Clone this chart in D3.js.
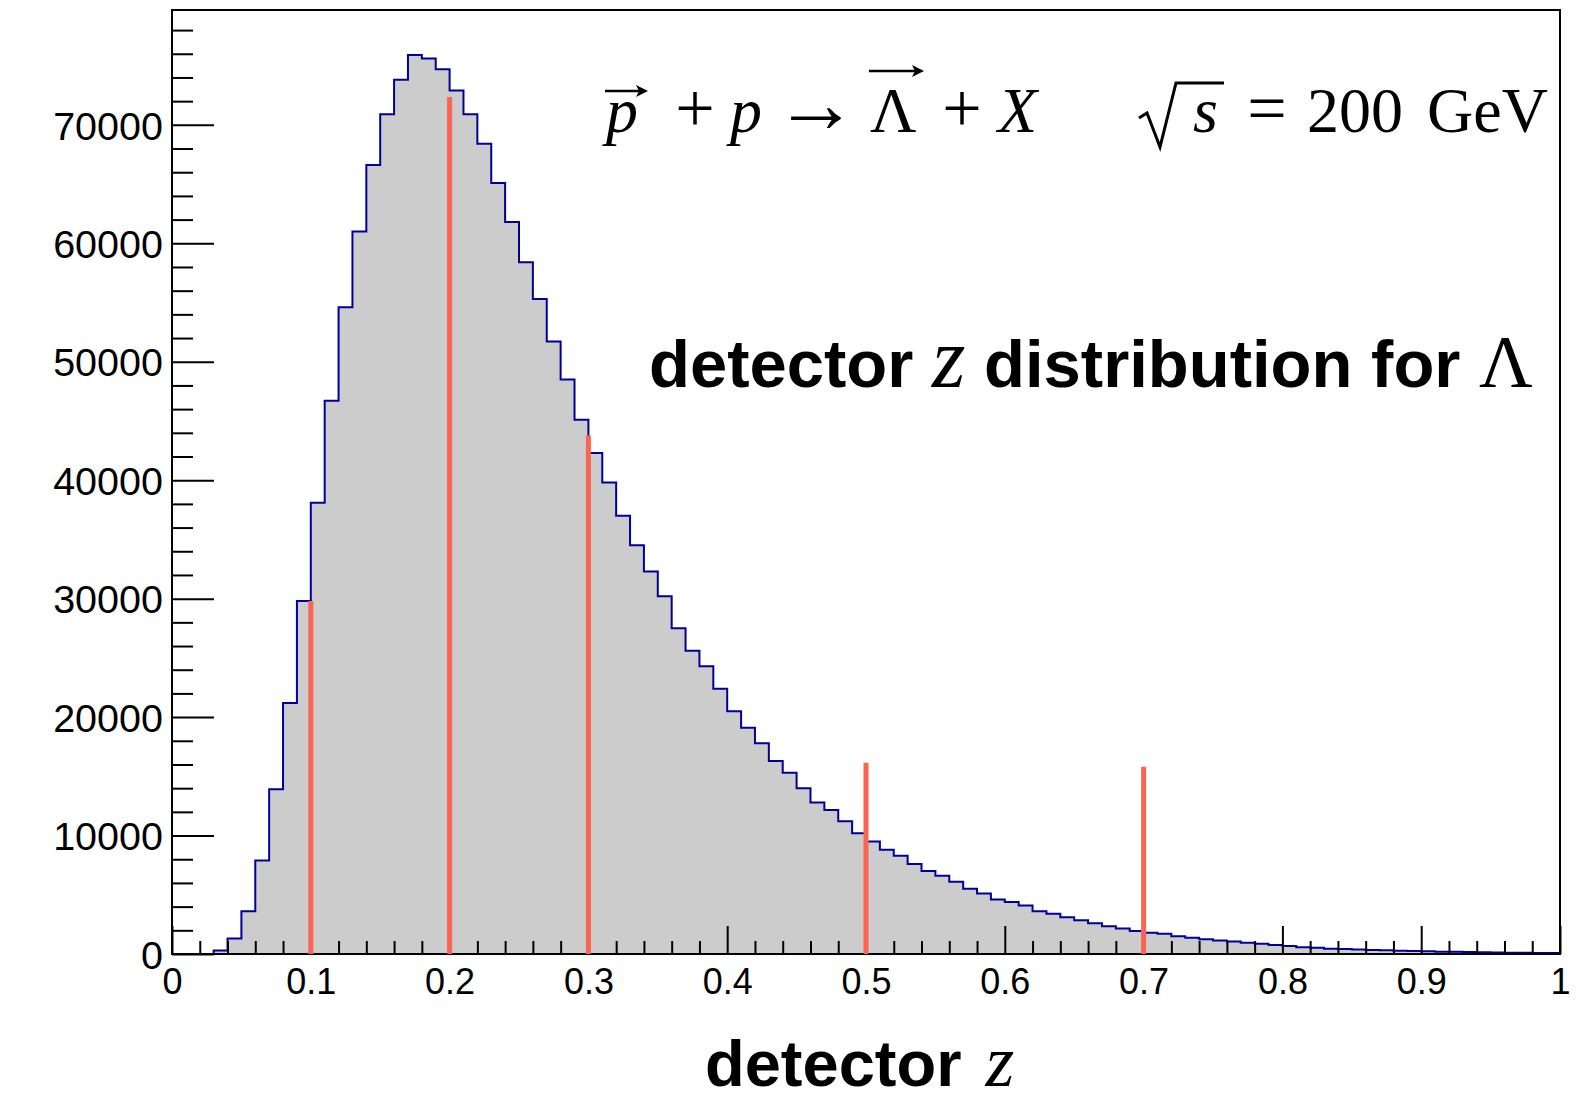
<!DOCTYPE html>
<html>
<head>
<meta charset="utf-8">
<script src="https://cdn.jsdelivr.net/npm/d3@7"></script>
<style>
  html, body { margin: 0; padding: 0; background: #ffffff; }
  svg { display: block; }
</style>
</head>
<body>
<svg id="chart" width="1588" height="1104"></svg>
<script>
// Detector-level z distribution of Lambda hyperons, 100 equal bins on [0, 1]
const binRange = [0, 1];
const binCounts = [
      0,     0,     0,   300,  1300,  3600,  7900, 13900, 21200, 29800,
  38100, 46700, 54600, 61000, 66600, 70900, 73800, 75900, 75600, 74700,
  72900, 70900, 68400, 65100, 61800, 58400, 55300, 51700, 48500, 45100,
  42300, 39800, 37000, 34500, 32300, 30200, 27500, 25600, 24300, 22400,
  20500, 19100, 17800, 16300, 15300, 14000, 12800, 12150, 11200, 10200,
   9500,  8800,  8300,  7600,  7000,  6600,  6100,  5500,  5100,  4600,
   4400,  4100,  3600,  3400,  3100,  2850,  2600,  2350,  2150,  1950,
   1800,  1700,  1500,  1380,  1250,  1150,  1060,   960,   870,   760,
    680,   570,   520,   450,   420,   370,   340,   310,   280,   260,
    240,   200,   190,   170,   140,   130,   110,   100,    90,    80
];

// Vertical markers at selected z values
const markerZ      = [0.1, 0.2, 0.3, 0.5, 0.7];
const markerHeight = [29800, 72350, 43800, 16150, 15800];

// Axis ticks
const xTickValues = [0, 0.1, 0.2, 0.3, 0.4, 0.5, 0.6, 0.7, 0.8, 0.9, 1];
const xTickLabels = ["0", "0.1", "0.2", "0.3", "0.4", "0.5", "0.6", "0.7", "0.8", "0.9", "1"];
const yTickValues = [0, 10000, 20000, 30000, 40000, 50000, 60000, 70000];
const yTickLabels = ["0", "10000", "20000", "30000", "40000", "50000", "60000", "70000"];
const xMinorStep = 0.02;
const yMinorStep = 2000;

const SANS = "'Liberation Sans', Arial, Helvetica, sans-serif";
const SERIF = "'Liberation Serif', 'Times New Roman', Times, serif";

const svg = d3.select("#chart");
const frame = { left: 172, right: 1560, top: 10, bottom: 954 };

const x = d3.scaleLinear().domain(binRange).range([frame.left, frame.right]);
const yMax = d3.max(binCounts) * 1.05;
const y = d3.scaleLinear().domain([0, yMax]).range([frame.bottom, frame.top]);

// ---- histogram (filled steps) ----
const nBins = binCounts.length;
const binWidth = (binRange[1] - binRange[0]) / nBins;
const stepPoints = [];
binCounts.forEach((c, i) => {
  const x0 = binRange[0] + i * binWidth;
  stepPoints.push([x0, c], [x0 + binWidth, c]);
});

svg.append("path")
  .datum(stepPoints)
  .attr("fill", "#cccccc")
  .attr("stroke", "none")
  .attr("d", d3.area().x(d => x(d[0])).y0(y(0)).y1(d => y(d[1])));

svg.append("path")
  .datum(stepPoints)
  .attr("fill", "none")
  .attr("stroke", "#000099")
  .attr("stroke-width", 2)
  .attr("d", d3.line().x(d => x(d[0])).y(d => y(d[1])));

// ---- axes ----
const yMinor = d3.range(0, yMax, yMinorStep).filter(v => v % 10000 !== 0);
const xMinor = d3.range(0, 1.0001, xMinorStep).map(v => +v.toFixed(2))
  .filter(v => Math.abs(v * 10 - Math.round(v * 10)) > 1e-6);

function styleAxis(g) {
  g.select(".domain").remove();
  g.selectAll(".tick line").attr("stroke", "#000").attr("stroke-width", 2);
}

svg.append("g")
  .attr("transform", `translate(${frame.left},0)`)
  .call(d3.axisLeft(y).tickValues(yMinor).tickSize(-21).tickFormat(""))
  .call(styleAxis);

const yAxisG = svg.append("g")
  .attr("transform", `translate(${frame.left},0)`)
  .call(d3.axisLeft(y).tickValues(yTickValues).tickSize(-42).tickPadding(9)
    .tickFormat((d, i) => yTickLabels[i]))
  .call(styleAxis);
yAxisG.selectAll(".tick text")
  .attr("font-family", SANS).attr("font-size", 39.5).attr("fill", "#000")
  .attr("dy", "0.36em");

svg.append("g")
  .attr("transform", `translate(0,${frame.bottom})`)
  .call(d3.axisBottom(x).tickValues(xMinor).tickSize(-13).tickFormat(""))
  .call(styleAxis);

const xAxisG = svg.append("g")
  .attr("transform", `translate(0,${frame.bottom})`)
  .call(d3.axisBottom(x).tickValues(xTickValues).tickSize(-28).tickPadding(14)
    .tickFormat((d, i) => xTickLabels[i]))
  .call(styleAxis);
xAxisG.selectAll(".tick text")
  .attr("font-family", SANS).attr("font-size", 36).attr("fill", "#000")
  .attr("dy", "0.71em");

// ---- frame ----
svg.append("rect")
  .attr("x", frame.left).attr("y", frame.top)
  .attr("width", frame.right - frame.left).attr("height", frame.bottom - frame.top)
  .attr("fill", "none").attr("stroke", "#000").attr("stroke-width", 2);

// ---- markers ----
svg.append("g").selectAll("line")
  .data(markerZ.map((z, i) => ({ z, h: markerHeight[i] })))
  .join("line")
  .attr("x1", d => x(d.z)).attr("x2", d => x(d.z))
  .attr("y1", y(0)).attr("y2", d => y(d.h))
  .attr("stroke", "#fa6450").attr("stroke-width", 5);

// ---- x-axis title ----
const xTitle = svg.append("text")
  .attr("x", 705).attr("y", 1086)
  .attr("font-family", SANS).attr("font-weight", "bold").attr("font-size", 65)
  .attr("fill", "#000");
xTitle.append("tspan").text("detector ");
xTitle.append("tspan").attr("font-family", SERIF).attr("font-style", "italic")
  .attr("font-weight", "normal").attr("font-size", 74).attr("dx", 6).text("z");

// ---- reaction label ----
const rx = 608, ry = 132, rfs = 64;
const reaction = svg.append("g").attr("transform", `translate(${rx},${ry})`)
  .attr("font-family", SERIF).attr("font-size", rfs).attr("fill", "#000");

function piece(txt, dx, opts = {}) {
  const t = reaction.append("text").attr("x", dx).attr("y", 0).text(txt);
  if (opts.italic) t.attr("font-style", "italic");
  if (opts.anchor) t.attr("text-anchor", opts.anchor);
  if (opts.size) t.attr("font-size", opts.size);
  return t;
}
function overArrow(x0, x1, yy) {
  reaction.append("line").attr("x1", x0).attr("x2", x1 - 4).attr("y1", yy).attr("y2", yy)
    .attr("stroke", "#000").attr("stroke-width", 2.5);
  reaction.append("path")
    .attr("d", `M${x1},${yy} L${x1 - 12},${yy - 6} L${x1 - 9},${yy} L${x1 - 12},${yy + 6} Z`)
    .attr("fill", "#000");
}

piece("p", -2, { italic: true });
overArrow(-3, 40, -41);
piece("+", 87, { anchor: "middle", size: 70 });
piece("p", 122, { italic: true });
piece("\u2192", 208, { anchor: "middle", size: 84 });
piece("\u039B", 262);
overArrow(261, 316, -61);
piece("+", 354, { anchor: "middle", size: 70 });
piece("X", 390, { italic: true });
reaction.append("path")
  .attr("d", "M531,-14 L539,-19 L552,15 L568,-49 L616,-49")
  .attr("fill", "none").attr("stroke", "#000").attr("stroke-width", 3)
  .attr("stroke-linejoin", "miter");
piece("s", 585, { italic: true });
piece("=", 659, { anchor: "middle", size: 70 });
piece("200", 699);
piece("GeV", 819);

// ---- distribution label ----
const dist = svg.append("text")
  .attr("x", 649).attr("y", 387)
  .attr("font-family", SANS).attr("font-weight", "bold").attr("font-size", 67)
  .attr("fill", "#000");
dist.append("tspan").text("detector ");
dist.append("tspan").attr("font-family", SERIF).attr("font-style", "italic")
  .attr("font-weight", "normal").attr("font-size", 86).text("z");
dist.append("tspan").text(" distribution for ");
dist.append("tspan").attr("font-family", SERIF)
  .attr("font-weight", "normal").attr("font-size", 74).text("\u039B");
</script>
</body>
</html>
